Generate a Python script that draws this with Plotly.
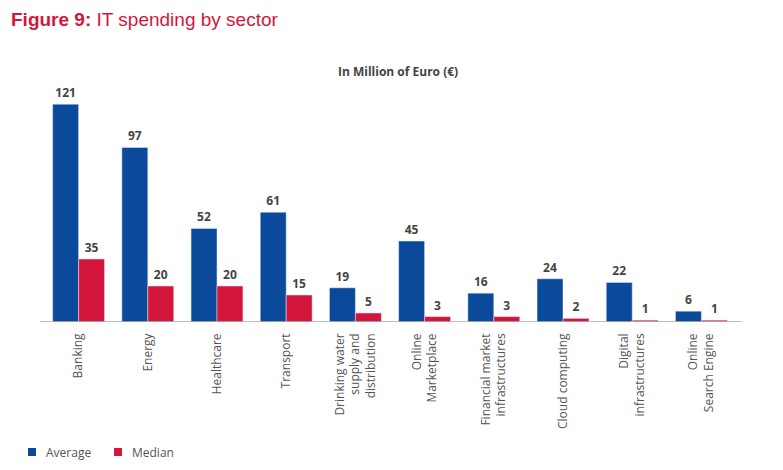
import plotly.graph_objects as go

categories = ["Banking", "Energy", "Healthcare", "Transport",
              "Drinking water<br>supply and<br>distribution",
              "Online<br>Marketplace", "Financial market<br>infrastructures",
              "Cloud computing", "Digital<br>infrastructures",
              "Online<br>Search Engine"]
average = [121, 97, 52, 61, 19, 45, 16, 24, 22, 6]
median = [35, 20, 20, 15, 5, 3, 3, 2, 1, 1]
series_names = ["Average", "Median"]

BLUE = "#0b4a9b"
RED = "#d5163c"
GRAY = "#444444"
LABEL = "#555555"

# page body adds an 8px offset; compensate
L, T, W, H = 36, 80, 692, 234


def px_x(p):
    return (p - L) / W


def px_y(p):
    return 1 - (p - T) / H


fig = go.Figure()
for name, vals, col in zip(series_names, [average, median], [BLUE, RED]):
    fig.add_trace(go.Bar(x=categories, y=vals, name=name, marker_color=col,
                         text=vals, textposition="outside", cliponaxis=False,
                         textfont=dict(family="Open Sans", size=12, color=GRAY, weight="bold")))

fig.update_layout(
    width=783, height=470,
    margin=dict(l=L, r=783 - L - W, t=T, b=470 - T - H, autoexpand=False),
    plot_bgcolor="white", paper_bgcolor="white",
    barmode="group", bargap=0.25, bargroupgap=0,
    font=dict(family="Open Sans", color=LABEL, size=12),
    xaxis=dict(tickangle=-90, showline=False, ticks="", showgrid=False, automargin=False,
               ticklabelstandoff=8,
               tickfont=dict(family="Open Sans", size=12, color=LABEL)),
    yaxis=dict(range=[0, 130], visible=False, automargin=False),
    showlegend=False,
)

fig.add_shape(type="line", xref="paper", yref="y", x0=-0.006, x1=1.009, y0=0, y1=0,
              line=dict(color="#aaaaaa", width=1.5))

# legend (manual, to match compact spacing)
leg = [(20, 36, BLUE), (106, 122, RED)]
for name, (sx, tx, col) in zip(series_names, leg):
    fig.add_shape(type="rect", xref="paper", yref="paper",
                  x0=px_x(sx), x1=px_x(sx + 8), y0=px_y(448), y1=px_y(440),
                  fillcolor=col, line=dict(width=0))
    fig.add_annotation(text=name, xref="paper", yref="paper", x=px_x(tx), y=px_y(444),
                       xanchor="left", yanchor="middle", showarrow=False,
                       font=dict(family="Open Sans", size=12, color=LABEL))

fig.add_annotation(text="<b>Figure 9:</b> IT spending by sector", xref="paper", yref="paper",
                   x=px_x(2), y=px_y(0), xanchor="left", yanchor="top",
                   showarrow=False, borderpad=0,
                   font=dict(family="Liberation Sans", size=19, color=RED))
fig.add_annotation(text="<b>In Million of Euro (€)</b>", xref="paper", yref="paper",
                   x=px_x(390), y=px_y(63), xanchor="center", yanchor="middle",
                   showarrow=False, font=dict(family="Open Sans", size=12, color=GRAY))

fig.write_html("out.html")
